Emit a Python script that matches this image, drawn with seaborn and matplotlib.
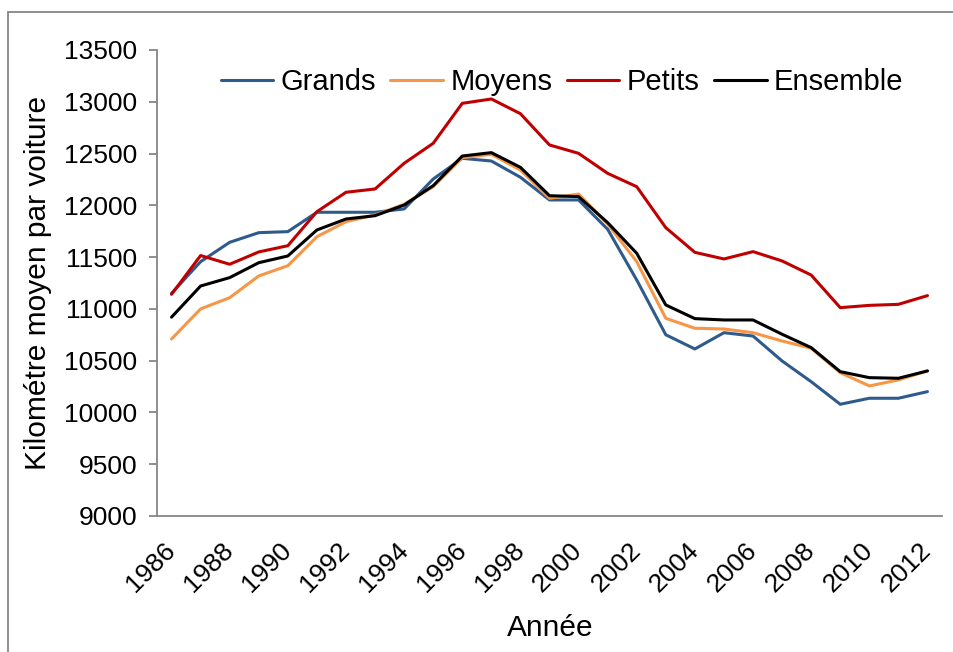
import numpy as np
import pandas as pd
import matplotlib
matplotlib.use("Agg")
import matplotlib.pyplot as plt
from matplotlib.lines import Line2D
from matplotlib.ticker import FixedLocator
import seaborn as sns

years = list(range(1986, 2013))
grands = [11150, 11456, 11643, 11736, 11746, 11933, 11933, 11933, 11965, 12254,
          12454, 12428, 12271, 12052, 12052, 11769, 11279, 10750, 10613, 10770,
          10738, 10497, 10297, 10079, 10137, 10137, 10201]
moyens = [10709, 11000, 11108, 11318, 11417, 11697, 11842, 11907, 12010, 12180,
          12460, 12493, 12341, 12068, 12109, 11820, 11456, 10909, 10813, 10806,
          10770, 10690, 10620, 10384, 10256, 10314, 10401]
petits = [11141, 11515, 11431, 11550, 11610, 11939, 12126, 12158, 12406, 12599,
          12985, 13027, 12885, 12583, 12502, 12309, 12180, 11784, 11546, 11482,
          11553, 11463, 11327, 11012, 11034, 11044, 11128]
ensemble = [10920, 11221, 11302, 11446, 11511, 11762, 11868, 11900, 12003, 12190,
            12476, 12509, 12367, 12093, 12084, 11833, 11537, 11038, 10906, 10893,
            10893, 10755, 10626, 10394, 10336, 10330, 10401]
series_names = ["Grands", "Moyens", "Petits", "Ensemble"]
colors = ["#2F5B8C", "#F79646", "#C00000", "#000000"]
yticks = list(range(9000, 14000, 500))

sns.set_style("white")
plt.rcParams["font.family"] = ["Liberation Sans", "DejaVu Sans"]
plt.rcParams["text.color"] = "black"
plt.rcParams["xtick.labelcolor"] = "black"
plt.rcParams["ytick.labelcolor"] = "black"

idx = np.arange(len(years))
df = pd.DataFrame({"idx": idx, "Grands": grands, "Moyens": moyens,
                   "Petits": petits, "Ensemble": ensemble})
long = df.melt(id_vars="idx", var_name="serie", value_name="km")

fig = plt.figure(figsize=(9.54, 6.52), dpi=100)
ax = fig.add_axes([157/954, 1-516/652, (942-157)/954, (516-50)/652])

sns.lineplot(data=long, x="idx", y="km", hue="serie", hue_order=series_names,
             palette=colors, linewidth=2.2, ax=ax, legend=False)

ax.set_xlim(-0.5, len(years) - 0.5)
ax.set_ylim(9000, 13500)
ax.set_yticks(yticks)
ax.set_yticklabels([str(v) for v in yticks], fontsize=19, color="black")

ax.set_xticks(idx[::2])
ax.set_xticklabels([str(y) for y in years[::2]], fontsize=19, rotation=45,
                   ha="right", va="center", rotation_mode="anchor", color="black")
ax.xaxis.set_minor_locator(FixedLocator(np.arange(-0.5, len(years), 1.0)))
ax.tick_params(axis="x", which="major", length=0, pad=22)
ax.tick_params(axis="x", which="minor", length=7, width=1.3, color="#868686", direction="out")
ax.tick_params(axis="y", which="major", length=6, width=1.3, color="#868686",
               direction="out", pad=8, left=True)

for s in ["top", "right"]:
    ax.spines[s].set_visible(False)
for s in ["left", "bottom"]:
    ax.spines[s].set_color("#868686")
    ax.spines[s].set_linewidth(1.3)
ax.grid(False)

ax.set_xlabel("")
ax.set_ylabel("")
fig.text(550/954, 1-628/652, "Année", fontsize=21.5, ha="center", va="center",
         color="black")
fig.text(38/954, 1-283/652, "Kilométre moyen par voiture", fontsize=21.5,
         rotation=90, ha="center", va="center", color="black")

handles = [Line2D([], [], color=c, linewidth=2.2) for c in colors]
leg = fig.legend(handles, series_names, loc="center", bbox_to_anchor=(562/954, 1-82/652),
                 ncol=4, frameon=False, fontsize=21, handlelength=1.8,
                 handletextpad=0.25, columnspacing=0.5, borderpad=0, borderaxespad=0)
for t in leg.get_texts():
    t.set_color("black")

# outer chart frame
fig.add_artist(Line2D([8/954, 8/954], [0, 1-12/652], transform=fig.transFigure,
                      color="#868686", linewidth=1.3))
fig.add_artist(Line2D([8/954, 1], [1-12/652, 1-12/652], transform=fig.transFigure,
                      color="#868686", linewidth=1.3))

fig.savefig("out.png", dpi=100)
